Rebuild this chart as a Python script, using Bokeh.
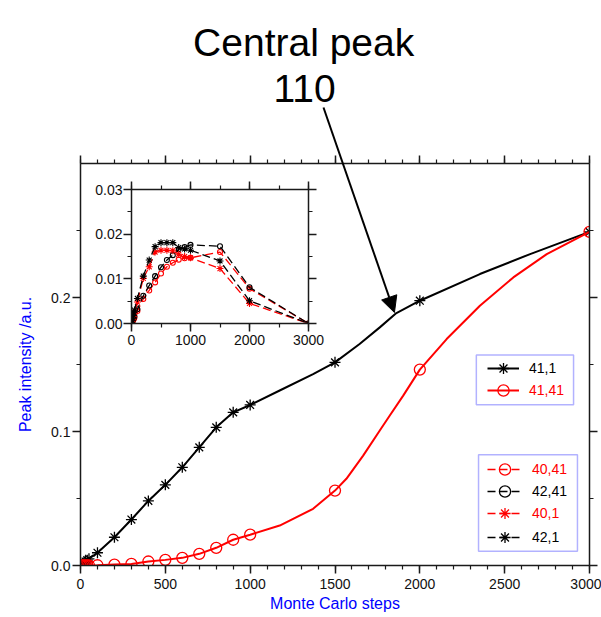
from bokeh.plotting import figure
from bokeh.models import (Range1d, LinearAxis, SingleIntervalTicker, NumeralTickFormatter,
                          Legend, LegendItem, Label, Arrow, NormalHead, BoxAnnotation,
                          CustomLabelingPolicy)
from bokeh.embed import file_html
from bokeh.resources import INLINE

FONT = "Liberation Sans"

# ---------------- main panel data ----------------
steps = [0, 10, 20, 30, 40, 50, 100, 200, 300, 400, 500, 600, 700, 800, 900, 1000, 1500, 2000, 3000]
peak_41_1 = [0.0, 0.001, 0.002, 0.003, 0.004, 0.005, 0.0095, 0.0211, 0.0343, 0.0482, 0.0602,
             0.0733, 0.0882, 0.1031, 0.1143, 0.1198, 0.1516, 0.1976, 0.249]
peak_41_41 = [0.0, 0.0, 0.0, 0.0, 0.0, 0.0, 0.0002, 0.0007, 0.0012, 0.0030, 0.0042,
              0.0057, 0.0087, 0.0132, 0.0192, 0.0230, 0.0559, 0.1462, 0.249]

# traced continuous curves
curve_41_1_x = [0, 10, 20, 30, 40, 50, 100, 200, 300, 400, 500, 600, 700, 800, 900, 1000,
                1174, 1371, 1500, 1645, 1764, 1862, 2000, 2354, 2650, 3000]
curve_41_1_y = [0.0, 0.001, 0.002, 0.003, 0.004, 0.005, 0.0095, 0.0211, 0.0343, 0.0482, 0.0602,
                0.0733, 0.0882, 0.1031, 0.1143, 0.1198, 0.1306, 0.1428, 0.1516, 0.1653, 0.1777,
                0.1884, 0.1976, 0.2175, 0.2324, 0.249]
curve_41_41_x = [0, 50, 100, 200, 300, 400, 500, 600, 700, 800, 900, 1000, 1174, 1371, 1500,
                 1567, 1666, 1764, 1823, 1902, 2000, 2158, 2354, 2551, 2748, 3000]
curve_41_41_y = [0.0, 0.0, 0.0002, 0.0007, 0.0012, 0.0030, 0.0042, 0.0057, 0.0087, 0.0132, 0.0192,
                 0.0230, 0.0298, 0.0423, 0.0559, 0.0647, 0.0820, 0.1007, 0.1119, 0.1268, 0.1462,
                 0.1690, 0.1939, 0.2150, 0.2324, 0.249]

# ---------------- inset data ----------------
inset_steps = [0, 10, 20, 30, 40, 50, 100, 200, 300, 400, 500, 600, 700, 800, 900, 1000, 1500, 2000, 3000]
peak_40_41 = [0.0, 0.0003, 0.0005, 0.0008, 0.001, 0.0013, 0.0028, 0.0055, 0.0074, 0.0092, 0.0112,
              0.0127, 0.0136, 0.0143, 0.0146, 0.0147, 0.0160, 0.0078, 0.0]
peak_42_41 = [0.0, 0.0003, 0.0006, 0.001, 0.0013, 0.0016, 0.0032, 0.0062, 0.0085, 0.0106, 0.0126,
              0.0142, 0.0153, 0.0166, 0.0171, 0.0176, 0.0173, 0.0081, 0.0]
peak_40_1 = [0.0, 0.0005, 0.001, 0.0015, 0.002, 0.0025, 0.0048, 0.0101, 0.0127, 0.0160, 0.0164,
             0.0164, 0.0163, 0.0155, 0.0150, 0.0147, 0.0123, 0.0045, 0.0]
peak_42_1 = [0.0, 0.0006, 0.0012, 0.0018, 0.0024, 0.003, 0.0056, 0.0106, 0.0142, 0.0172, 0.0181,
             0.0181, 0.0181, 0.0170, 0.0167, 0.0164, 0.0140, 0.0051, 0.0]

AXC = "#1a1a1a"
HIDE_LABELS = """
const all = Array.from(indices);
for (const i of all) indices.unset(i);
return indices;
"""


def make_axis(interval, minor, fmt=None, show_labels=True, label=None,
              tick_out=8, minor_out=4, standoff=4):
    ax = LinearAxis(ticker=SingleIntervalTicker(interval=interval, num_minor_ticks=minor))
    ax.major_tick_in = 0
    ax.major_tick_out = tick_out
    ax.minor_tick_in = 0
    ax.minor_tick_out = minor_out
    ax.axis_line_width = 1.5
    ax.axis_line_color = AXC
    ax.major_tick_line_color = AXC
    ax.minor_tick_line_color = AXC
    ax.major_tick_line_width = 1.5
    ax.minor_tick_line_width = 1.2
    ax.major_label_text_font = FONT
    ax.major_label_text_font_size = "14px"
    ax.major_label_text_color = "#111111"
    ax.major_label_standoff = standoff
    if fmt:
        ax.formatter = NumeralTickFormatter(format=fmt)
    if not show_labels:
        # frame-side axes: ticks only, no labels drawn and no space reserved
        ax.major_label_policy = CustomLabelingPolicy(code=HIDE_LABELS)
        ax.major_label_text_font_size = "0px"
        ax.major_label_standoff = 0
    if label:
        ax.axis_label = label
        ax.axis_label_text_font = FONT
        ax.axis_label_text_font_size = "16px"
        ax.axis_label_text_font_style = "normal"
        ax.axis_label_text_color = "#0000ff"
    return ax


# ---------------- main figure ----------------
p = figure(width=601, height=617, output_backend="svg", toolbar_location=None,
           x_range=Range1d(0, 3000), y_range=Range1d(0, 0.3),
           min_border_left=80, min_border_right=12, min_border_top=163, min_border_bottom=52,
           x_axis_type=None, y_axis_type=None)
p.outline_line_color = None
p.background_fill_color = "white"
p.border_fill_color = "white"

xb = make_axis(500, 5, label="Monte Carlo steps", standoff=5)
xb.axis_label_standoff = 3
p.add_layout(xb, "below")
p.add_layout(make_axis(500, 5, show_labels=False), "above")
yl = make_axis(0.1, 2, fmt="0.0", label="Peak intensity /a.u.", standoff=2)
yl.axis_label_standoff = 14
p.add_layout(yl, "left")
p.add_layout(make_axis(0.1, 2, show_labels=False), "right")

l_black = p.line(curve_41_1_x, curve_41_1_y, line_color="black", line_width=2)
m_black = p.scatter(steps, peak_41_1, marker="asterisk", size=11, line_color="black", line_width=1.3)
l_red = p.line(curve_41_41_x, curve_41_41_y, line_color="#ff0000", line_width=2)
m_red = p.scatter(steps, peak_41_41, marker="circle", size=11, line_color="#ff0000",
                  fill_color=None, line_width=1.3)

# legend frames
p.add_layout(BoxAnnotation(left=2333, right=2906, bottom=0.1200, top=0.1570,
                           fill_color="white", fill_alpha=1.0, line_color="#0000ff", line_width=1.5))
p.add_layout(BoxAnnotation(left=2346, right=2929, bottom=0.0107, top=0.0827,
                           fill_color="white", fill_alpha=1.0, line_color="#0000ff", line_width=1.5))

# hidden twins of the inset series, used only for the legend samples
leg_dash = "8 4"
lg = {}
for key, series, col, mk in [("40,41", peak_40_41, "#ff0000", "circle"),
                             ("42,41", peak_42_41, "black", "circle"),
                             ("40,1", peak_40_1, "#ff0000", "asterisk"),
                             ("42,1", peak_42_1, "black", "asterisk")]:
    lr = p.line(inset_steps, series, line_color=col, line_width=1.3, line_dash=leg_dash, visible=False)
    mr = p.scatter(inset_steps, series, marker=mk, size=11, line_color=col, fill_color=None,
                   line_width=1.3, visible=False)
    lg[key] = (lr, mr, col)


def add_item(label, renderers, color, x, y, gw):
    leg = Legend(items=[LegendItem(label=label, renderers=renderers)], location=(x, y),
                 orientation="vertical", padding=0, margin=0, spacing=0,
                 border_line_color=None, background_fill_alpha=0,
                 glyph_width=gw, glyph_height=28, label_height=28, label_standoff=10,
                 label_text_font=FONT, label_text_font_size="14px", label_text_color=color,
                 inactive_fill_alpha=0)
    p.add_layout(leg, "center")


add_item("41,1", [l_black, m_black], "black", 407, 183, 32)
add_item("41,41", [l_red, m_red], "#ff0000", 407, 161, 32)
yy = [82, 60, 38, 14]
for k, key in enumerate(["40,41", "42,41", "40,1", "42,1"]):
    lr, mr, col = lg[key]
    add_item(key, [lr, mr], col, 407, yy[k], 35)

# ---------------- inset figure ----------------
q = figure(width=242, height=186, output_backend="svg", toolbar_location=None,
           x_range=Range1d(0, 3000), y_range=Range1d(0, 0.03),
           min_border_left=45, min_border_right=20, min_border_top=20, min_border_bottom=32,
           x_axis_type=None, y_axis_type=None)
q.outline_line_color = None
q.background_fill_alpha = 0
q.border_fill_alpha = 0
q.styles = {"position": "absolute", "left": "86px", "top": "169px"}

q.add_layout(make_axis(1000, 2, standoff=3), "below")
q.add_layout(make_axis(1000, 2, show_labels=False), "above")
q.add_layout(make_axis(0.01, 2, fmt="0.00", standoff=1), "left")
q.add_layout(make_axis(0.01, 2, show_labels=False), "right")

for series, col, mk in [(peak_40_41, "#ff0000", "circle"), (peak_42_41, "black", "circle"),
                        (peak_40_1, "#ff0000", "asterisk"), (peak_42_1, "black", "asterisk")]:
    q.line(inset_steps, series, line_color=col, line_width=1.3, line_dash=leg_dash)
    q.scatter(inset_steps, series, marker=mk, size=5 if mk == "circle" else 7,
              line_color=col, fill_color=None, line_width=1.1)

# ---------------- transparent overlay for the call-out (same data units as main) ----------------
ann = figure(width=601, height=617, output_backend="svg", toolbar_location=None,
             x_range=Range1d(-472.4, 3076.8), y_range=Range1d(-0.03881, 0.42164),
             min_border=0, min_border_left=0, min_border_right=0, min_border_top=0,
             min_border_bottom=0, x_axis_type=None, y_axis_type=None)
ann.outline_line_color = None
ann.background_fill_alpha = 0
ann.border_fill_alpha = 0
ann.styles = {"position": "absolute", "left": "0px", "top": "0px"}

ann.add_layout(Arrow(end=NormalHead(size=16, fill_color="black", line_color="black"),
                     x_start=1435, y_start=0.3418, x_end=1854, y_end=0.1888,
                     line_color="black", line_width=2))
ann.add_layout(Label(x=1318, y=0.3905, text="Central peak", text_align="center",
                     text_baseline="alphabetic", text_font=FONT, text_font_size="39px",
                     text_color="black"))
ann.add_layout(Label(x=1323, y=0.3557, text="110", text_align="center",
                     text_baseline="alphabetic", text_font=FONT, text_font_size="39px",
                     text_color="black"))

open("out.html", "w").write(file_html([p, q, ann], INLINE, title="Central peak 110"))
